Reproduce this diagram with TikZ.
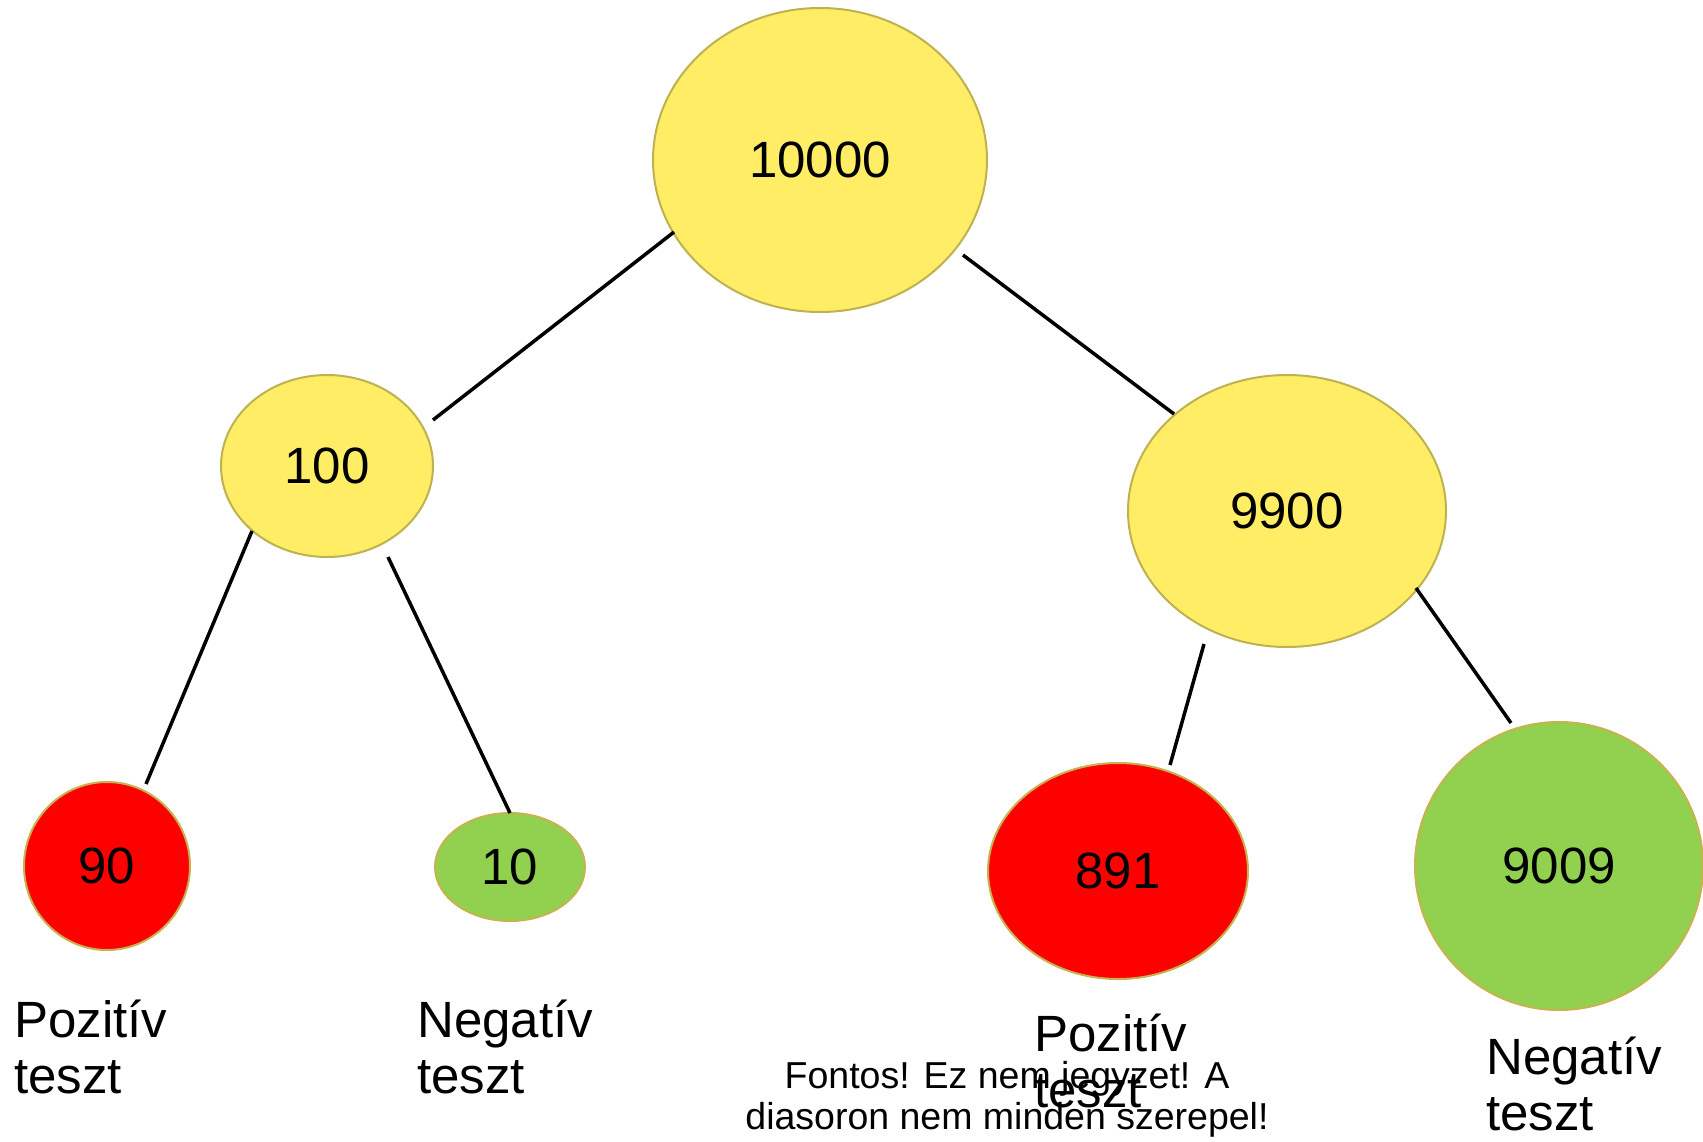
\documentclass[tikz,border=0pt]{standalone}
\usepackage{fontspec}
\setmainfont{Liberation Sans}
\usetikzlibrary{shapes.geometric,calc}
\definecolor{yfill}{RGB}{255,237,102}
\definecolor{yline}{RGB}{190,178,80}
\definecolor{rfill}{RGB}{255,0,0}
\definecolor{gfill}{RGB}{146,208,80}
\definecolor{tline}{RGB}{200,178,80}
\tikzset{
  blob/.style={ellipse,inner sep=0pt,outer sep=0pt,line width=1pt,
    font=\fontsize{25.5pt}{28pt}\selectfont},
  yblob/.style={blob,fill=yfill,draw=yline},
  rblob/.style={blob,fill=rfill,draw=tline},
  gblob/.style={blob,fill=gfill,draw=tline},
  conn/.style={line width=1.75pt,black},
  lbl/.style={anchor=base west,align=left,inner sep=0pt,
    font=\fontsize{25.5pt}{28pt}\selectfont},
  note/.style={anchor=base,align=center,inner sep=0pt,
    font=\fontsize{18.75pt}{20.5pt}\selectfont}
}
\begin{document}
\begin{tikzpicture}[x=0.5pt,y=-0.5pt]
\useasboundingbox (0,0) rectangle (1703,1141);
\node[yblob,minimum width=167pt,minimum height=152pt] (n10000) at (820,160) {10000};
\node[yblob,minimum width=106pt,minimum height=91pt] (n100) at (327,466) {100};
\node[yblob,minimum width=159pt,minimum height=136pt] (n9900) at (1287,511) {9900};
\node[rblob,minimum width=83pt,minimum height=84pt] (n90) at (107,866) {90};
\node[gblob,minimum width=75pt,minimum height=54pt] (n10) at (510,867) {10};
\node[rblob,minimum width=130pt,minimum height=108pt] (n891) at (1118,871) {891};
\node[gblob,minimum width=144pt,minimum height=144pt] (n9009) at (1559,866) {9009};
\draw[conn] ($(n10000)+(-146,72)$) -- ($(n100)+(106,-46)$);
\draw[conn] ($(n10000)+(143,95)$) -- ($(n9900)+(-113,-97)$);
\draw[conn] ($(n100)+(-75,65)$) -- ($(n90)+(39,-82)$);
\draw[conn] ($(n100)+(61,91)$) -- ($(n10)+(0,-54)$);
\draw[conn] ($(n9900)+(-83,133)$) -- ($(n891)+(52,-106)$);
\draw[conn] ($(n9900)+(129,77)$) -- ($(n9009)+(-48,-143)$);
\node[lbl] (t1) at (14,1093) {Pozitív\\teszt};
\node[lbl] (t2) at (417,1093) {Negatív\\teszt};
\node[note] (t5) at (1007,1129) {Fontos! Ez nem jegyzet! A\\diasoron nem minden szerepel!};
\node[lbl] (t3) at (1034,1107) {Pozitív\\teszt};
\node[lbl] (t4) at (1486,1130) {Negatív\\teszt};
\end{tikzpicture}
\end{document}
